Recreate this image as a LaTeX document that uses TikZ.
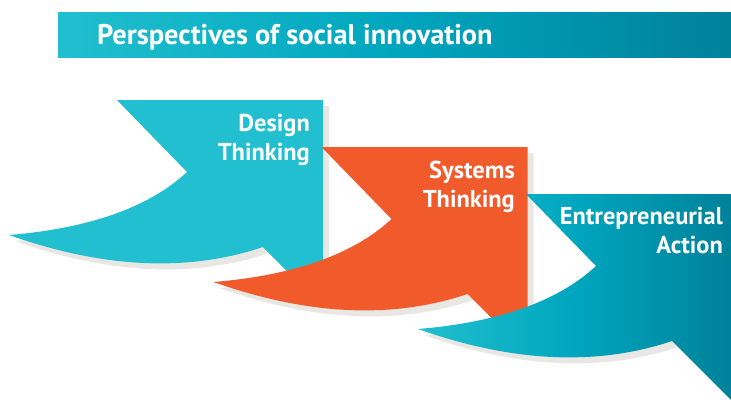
\documentclass[tikz,border=0pt]{standalone}
\usepackage{fontspec}
\setmainfont{PT Sans}
\definecolor{cyanlight}{HTML}{21BFCF}
\definecolor{tealmid}{HTML}{00A6BE}
\definecolor{tealdark}{HTML}{00819A}
\definecolor{orangebox}{HTML}{F15A2B}
\definecolor{shadowgray}{HTML}{E9E7E3}
\newcommand{\bubblepath}{(117,100) -- (323,100) -- (323,307) -- (263,247)
  .. controls (187.7,272.3) and (103,268.3) .. (9,235)
  .. controls (89.7,228.3) and (149,207.3) .. (187,172) -- cycle}
\begin{document}
\begin{tikzpicture}[x=1pt,y=-1pt,
  tealfade/.style={left color=cyanlight,right color=tealdark,middle color=tealmid},
  boxlabel/.style={font=\bfseries\fontsize{24.4}{28.5}\selectfont,text=white,align=right,anchor=base east,inner sep=0pt},
  titlelabel/.style={font=\bfseries\fontsize{28.4}{32}\selectfont,text=white,anchor=base west,inner sep=0pt}]
  \useasboundingbox (0,0) rectangle (731,399);

  % Title bar
  \shade[tealfade] (58,12) rectangle (731,57);
  \node[titlelabel] (title) at (97,44) {Perspectives of social innovation};

  % Shadows
  \foreach \dx/\dy in {6/6, 210.5/53, 415/100}
    \fill[shadowgray,shift={(\dx,\dy)}] \bubblepath;

  % Bubbles
  \fill[cyanlight] \bubblepath;
  \fill[orangebox,shift={(204.5,47)}] \bubblepath;
  \shade[tealfade,shift={(409,94)}] \bubblepath;

  % Labels
  \node[boxlabel] (design) at (310,160) {Design\\Thinking};
  \node[boxlabel] (systems) at (515,207) {Systems\\Thinking};
  \node[boxlabel] (action) at (723,253) {Entrepreneurial\\Action};
\end{tikzpicture}
\end{document}
